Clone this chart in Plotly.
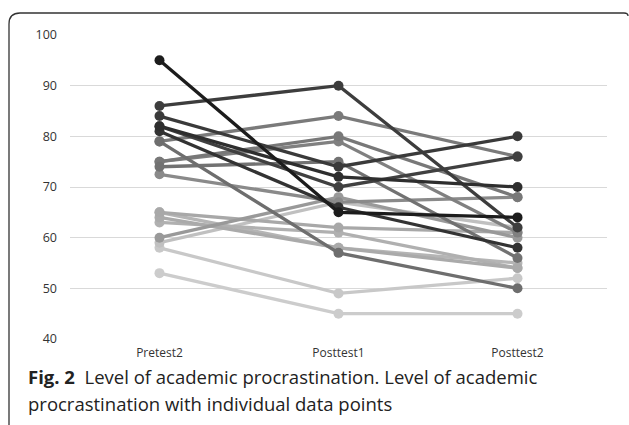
import plotly.graph_objects as go

categories = ["Pretest2", "Posttest1", "Posttest2"]

# each subject: [Pretest2, Posttest1, Posttest2]
subjects = [
    [95, 65, 64],
    [86, 90, 62],
    [84, 74, 80],
    [82, 72, 70],
    [81, 66, 58],
    [82, 70, 76],
    [79, 84, 76],
    [79, 57, 50],
    [75, 80, 68],
    [75, 79, 61],
    [74, 75, 56],
    [72.5, 67, 68],
    [65, 62, 61],
    [64, 58, 54],
    [63, 61, 54],
    [65, 58, 55],
    [60, 68, 60],
    [59, 67, 62],
    [58, 49, 52],
    [53, 45, 45],
]
shades = [
    "#1c1c1c", "#3d3d3d", "#3a3a3a", "#2e2e2e", "#333333", "#404040",
    "#7a7a7a", "#6e6e6e", "#787878", "#808080", "#727272", "#8a8a8a",
    "#a8a8a8", "#aaaaaa", "#b0b0b0", "#b5b5b5", "#999999", "#c0c0c0",
    "#c8c8c8", "#cccccc",
]

y_ticks = [40, 50, 60, 70, 80, 90, 100]

fig = go.Figure()
# draw light lines first so darker ones sit on top
order = sorted(range(len(subjects)), key=lambda i: -int(shades[i][1:3], 16))
for i in order:
    fig.add_trace(go.Scatter(
        x=categories, y=subjects[i], mode="lines+markers",
        line=dict(color=shades[i], width=3.3),
        marker=dict(color=shades[i], size=10),
        showlegend=False, hoverinfo="skip",
    ))

fig.update_layout(
    width=629, height=425,
    margin=dict(l=70, r=22, t=35, b=86),
    paper_bgcolor="white", plot_bgcolor="white",
    font=dict(family="Open Sans", color="#333333", size=12),
    xaxis=dict(type="category", range=[-0.5, 2.5], showgrid=False, zeroline=False,
               showline=False, ticks="", automargin=False, ticklabelstandoff=5,
               tickfont=dict(size=12, color="#333333")),
    yaxis=dict(range=[40, 100], tickvals=y_ticks, showgrid=True, automargin=False,
               gridcolor="#d9d9d9", gridwidth=1, zeroline=False, showline=False,
               ticks="", ticklabelstandoff=12, tickfont=dict(size=12.5, color="#333333")),
)

# frame (top + left border with rounded corner)
def px_x(p):
    return (p - 70) / 537.0

def px_y(p):
    return 1 - (p - 35) / 304.0

x0, xr, yt, yb, r = px_x(9), px_x(628), px_y(13), px_y(426), 11
path = (f"M {x0},{yb} L {x0},{px_y(13 + r)} "
        f"Q {x0},{yt} {px_x(9 + r)},{yt} L {px_x(624)},{yt} "
        f"Q {xr},{yt} {xr},{px_y(16)}")
fig.add_shape(type="path", path=path, xref="paper", yref="paper",
              line=dict(color="#333333", width=1.3))

fig.add_annotation(
    text="<b>Fig. 2</b>  Level of academic procrastination. Level of academic",
    xref="paper", yref="paper", x=px_x(26), y=px_y(376), xanchor="left", yanchor="middle",
    showarrow=False, font=dict(family="Open Sans", size=18.5, color="#222222"),
)
fig.add_annotation(
    text="procrastination with individual data points",
    xref="paper", yref="paper", x=px_x(26), y=px_y(403), xanchor="left", yanchor="middle",
    showarrow=False, font=dict(family="Open Sans", size=18.5, color="#222222"),
)

fig.write_html("out.html", config={"displayModeBar": False},
               post_script="document.body.style.margin='0';")
